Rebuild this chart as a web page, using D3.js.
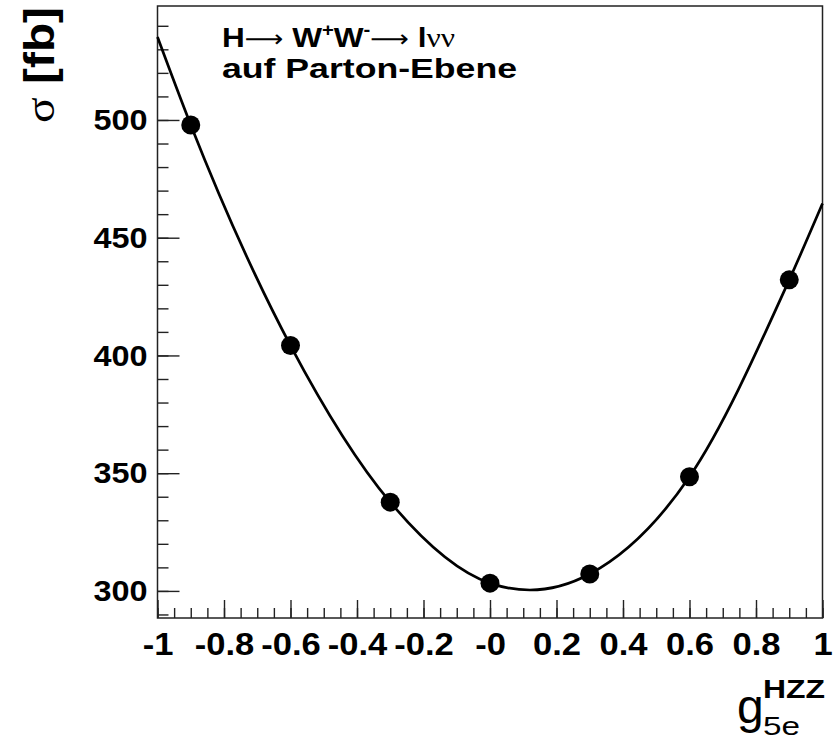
<!DOCTYPE html>
<html>
<head>
<meta charset="utf-8">
<script src="https://cdn.jsdelivr.net/npm/d3@7/dist/d3.min.js"></script>
<style>
  html, body { margin: 0; padding: 0; background: #fff; }
  svg { display: block; font-family: "Liberation Sans", Arial, sans-serif; }
  .sym { font-family: "DejaVu Sans", sans-serif; font-weight: normal; }
  .greek { font-family: "Liberation Serif", "DejaVu Serif", serif; font-weight: normal; }
</style>
</head>
<body>
<svg id="chart" width="835" height="744"></svg>
<script>
// measured points (g5e, sigma in fb)
const gValues = [-0.9, -0.6, -0.3, 0, 0.3, 0.6, 0.9];
const sigmaValues = [497.9, 404.2, 337.7, 303.3, 307.2, 348.5, 432.1];

// fit curve
const fitG = [-1, -0.9, -0.6, -0.3, 0, 0.12, 0.3, 0.6, 0.9, 1];
const fitSigma = [535.2, 497.9, 404.2, 337.7, 303.3, 300.4, 307.2, 348.5, 432.1, 464.5];

// axis ticks
const xMajor = [-1, -0.8, -0.6, -0.4, -0.2, 0, 0.2, 0.4, 0.6, 0.8, 1];
const xTickLabels = ["-1", "-0.8", "-0.6", "-0.4", "-0.2", "-0", "0.2", "0.4", "0.6", "0.8", "1"];
const yMajor = [300, 350, 400, 450, 500];

const svg = d3.select("#chart");
const L = 157.5, R = 822.5, T = 6, B = 618;

const x = d3.scaleLinear().domain([-1, 1]).range([L, R]);
const y = d3.scaleLinear().domain([288.5, 548.4]).range([B, T]);

const xMinor = d3.range(0, 41).map((i) => -1 + i * 0.05);
const yMinor = d3.range(290, 541, 10);

/* ticks */
const gx = svg.append("g").attr("transform", `translate(0,${B})`);
gx.append("g").call(d3.axisBottom(x).tickValues(xMinor).tickSize(-10).tickFormat(""));
gx.append("g").call(d3.axisBottom(x).tickValues(xMajor).tickSize(-18).tickPadding(14)
  .tickFormat((d, i) => xTickLabels[i]));

const gy = svg.append("g").attr("transform", `translate(${L},0)`);
gy.append("g").call(d3.axisLeft(y).tickValues(yMinor).tickSize(-11).tickFormat(""));
gy.append("g").call(d3.axisLeft(y).tickValues(yMajor).tickSize(-22).tickPadding(10)
  .tickFormat(d3.format("d")));

svg.selectAll(".domain").remove();
svg.selectAll(".tick line").attr("stroke", "#222").attr("stroke-width", 1.4);
svg.selectAll(".tick text").attr("font-weight", "bold")
  .attr("font-family", "Liberation Sans, Arial, sans-serif").attr("fill", "#000")
  .attr("lengthAdjust", "spacingAndGlyphs");
gx.selectAll(".tick text").attr("font-size", 32);
gy.selectAll(".tick text").attr("font-size", 30);
// the original labels are a little wider than Liberation Sans
svg.selectAll(".tick text").each(function () {
  const w = this.getComputedTextLength();
  if (w > 0) d3.select(this).attr("textLength", w * 1.08);
});

/* frame */
svg.append("rect").attr("x", L).attr("y", T).attr("width", R - L).attr("height", B - T)
  .attr("fill", "none").attr("stroke", "#222").attr("stroke-width", 1.5);

/* fit curve */
const line = d3.line().x((d, i) => x(fitG[i])).y((d) => y(d)).curve(d3.curveMonotoneX);
svg.append("path").datum(fitSigma).attr("d", line)
  .attr("fill", "none").attr("stroke", "#000").attr("stroke-width", 2.7);

/* points */
svg.append("g").selectAll("circle").data(sigmaValues).join("circle")
  .attr("cx", (d, i) => x(gValues[i])).attr("cy", (d) => y(d))
  .attr("r", 9.5).attr("fill", "#000");

/* title */
const t1 = svg.append("text").attr("x", 222).attr("y", 47).attr("font-size", 28)
  .attr("font-weight", "bold").attr("textLength", 233).attr("lengthAdjust", "spacingAndGlyphs");
t1.append("tspan").text("H");
t1.append("tspan").attr("class", "sym").attr("font-size", 24).text("\u27f6 ");
t1.append("tspan").text("W");
t1.append("tspan").attr("font-size", 18).attr("dy", -11).text("+");
t1.append("tspan").attr("dy", 11).text("W");
t1.append("tspan").attr("font-size", 18).attr("dy", -11).text("-");
t1.append("tspan").attr("class", "sym").attr("font-size", 24).attr("dy", 11).text("\u27f6 ");
t1.append("tspan").text("l");
t1.append("tspan").attr("class", "greek").text("\u03bd\u03bd");

svg.append("text").attr("x", 222).attr("y", 78).attr("font-size", 28)
  .attr("font-weight", "bold").attr("textLength", 295).attr("lengthAdjust", "spacingAndGlyphs")
  .text("auf Parton-Ebene");

/* y axis title */
const yt = svg.append("text").attr("transform", "translate(54,7) rotate(-90)")
  .attr("text-anchor", "end").attr("font-size", 42).attr("font-weight", "bold")
  .attr("textLength", 116).attr("lengthAdjust", "spacingAndGlyphs");
yt.append("tspan").attr("class", "greek").text("\u03c3");
yt.append("tspan").text(" [fb]");

/* x axis title */
svg.append("text").attr("x", 737).attr("y", 723).attr("font-size", 48).text("g");
svg.append("text").attr("x", 763).attr("y", 698).attr("font-size", 26).attr("font-weight", "bold")
  .attr("textLength", 62).attr("lengthAdjust", "spacingAndGlyphs").text("HZZ");
svg.append("text").attr("x", 763).attr("y", 735).attr("font-size", 26)
  .attr("textLength", 37).attr("lengthAdjust", "spacingAndGlyphs").text("5e");
</script>
</body>
</html>
